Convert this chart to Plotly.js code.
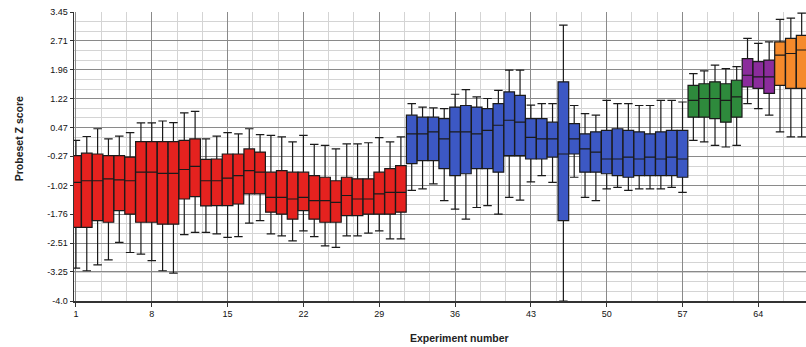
<!DOCTYPE html>
<html>
<head>
<meta charset="utf-8">
<script src="https://cdn.plot.ly/plotly-3.0.1.min.js"></script>
<style>
html,body{margin:0;padding:0;background:#fff;}
#chart{width:806px;height:347px;}
</style>
</head>
<body>
<div id="chart"></div>
<script>
// ---- data ----
const redX    = [1,2,3,4,5,6,7,8,9,10,11,12,13,14,15,16,17,18,19,20,21,22,23,24,25,26,27,28,29,30,31];
const redHigh = [0.14,0.24,0.44,0.18,0.25,0.34,0.59,0.59,0.64,0.60,0.85,0.89,0.18,0.25,0.34,0.31,0.44,0.29,0.27,0.23,0.10,0.27,0.04,0.01,-0.08,0.05,0.05,0.08,0.21,0.10,0.23];
const redQ3   = [-0.25,-0.19,-0.21,-0.25,-0.25,-0.29,0.11,0.11,0.11,0.11,0.14,0.18,-0.35,-0.34,-0.21,-0.21,-0.08,-0.16,-0.68,-0.64,-0.68,-0.68,-0.77,-0.81,-0.90,-0.81,-0.85,-0.85,-0.68,-0.59,-0.51];
const redMed  = [-0.94,-0.90,-0.90,-0.85,-0.88,-0.90,-0.68,-0.68,-0.71,-0.71,-0.61,-0.53,-0.90,-0.90,-0.83,-0.77,-0.64,-0.68,-1.33,-1.33,-1.37,-1.33,-1.41,-1.41,-1.46,-1.28,-1.37,-1.37,-1.24,-1.20,-1.20];
const redQ1   = [-2.10,-2.10,-1.93,-1.97,-1.67,-1.76,-1.97,-1.97,-2.02,-2.02,-1.37,-1.31,-1.55,-1.54,-1.54,-1.50,-1.24,-1.24,-1.71,-1.76,-1.89,-1.67,-1.89,-1.97,-1.97,-1.80,-1.80,-1.76,-1.76,-1.76,-1.71];
const redLow  = [-3.15,-3.22,-3.07,-2.94,-2.49,-2.75,-2.79,-2.96,-3.22,-3.28,-2.29,-2.23,-2.23,-2.27,-2.36,-2.34,-1.99,-1.93,-2.27,-2.32,-2.45,-2.19,-2.34,-2.58,-2.62,-2.32,-2.32,-2.25,-2.19,-2.40,-2.40];

const blueX    = [32,33,34,35,36,37,38,39,40,41,42,43,44,45,46,47,48,49,50,51,52,53,54,55,56,57];
const blueHigh = [1.09,1.00,0.98,0.96,1.33,1.45,1.26,1.22,1.43,1.95,1.95,1.05,1.09,1.09,3.11,1.04,0.83,0.79,1.17,1.09,1.09,1.04,1.04,1.17,1.17,1.13];
const blueQ3   = [0.79,0.74,0.74,0.70,1.00,1.04,1.00,0.96,1.09,1.39,1.30,0.70,0.70,0.61,1.65,0.57,0.31,0.36,0.40,0.44,0.40,0.36,0.31,0.36,0.40,0.40];
const blueMed  = [0.31,0.31,0.36,0.18,0.36,0.36,0.31,0.40,0.53,0.66,0.61,0.22,0.18,0.18,-0.21,0.18,-0.08,-0.16,-0.34,-0.34,-0.29,-0.34,-0.29,-0.34,-0.29,-0.34];
const blueQ1   = [-0.46,-0.38,-0.38,-0.59,-0.77,-0.72,-0.59,-0.59,-0.68,-0.25,-0.25,-0.34,-0.34,-0.29,-1.93,-0.21,-0.68,-0.68,-0.72,-0.77,-0.81,-0.77,-0.77,-0.77,-0.77,-0.81];
const blueLow  = [-1.15,-1.11,-0.98,-1.41,-1.63,-1.89,-1.59,-1.54,-1.76,-1.33,-1.40,-0.93,-0.77,-0.94,-4.00,-0.81,-1.33,-1.41,-1.11,-1.07,-1.15,-1.11,-1.11,-1.11,-1.07,-1.20];

const greenX    = [58,59,60,61,62];
const greenHigh = [1.86,1.93,2.08,1.99,2.04];
const greenQ3   = [1.56,1.60,1.65,1.60,1.69];
const greenMed  = [1.17,1.22,1.22,1.17,1.26];
const greenQ1   = [0.74,0.74,0.70,0.61,0.74];
const greenLow  = [0.14,0.10,0.01,-0.03,0.01];

const purpleX    = [63,64,65];
const purpleHigh = [2.77,2.64,2.68];
const purpleQ3   = [2.25,2.17,2.21];
const purpleMed  = [1.82,1.78,1.78];
const purpleQ1   = [1.52,1.48,1.35];
const purpleLow  = [1.09,0.96,0.79];

const orangeX    = [66,67,68];
const orangeHigh = [3.26,3.29,3.42];
const orangeQ3   = [2.68,2.77,2.85];
const orangeMed  = [2.34,2.38,2.47];
const orangeQ1   = [1.56,1.48,1.48];
const orangeLow  = [0.36,0.23,0.23];

const yTickVals  = [3.45,2.71,1.96,1.22,0.47,-0.27,-1.02,-1.76,-2.51,-3.25,-4.0];
const yTickText  = ["3.45","2.71","1.96","1.22","0.47","-0.27","-1.02","-1.76","-2.51","-3.25","-4.0"];
const xTickVals  = [1,8,15,22,29,36,43,50,57,64];

// ---- traces ----
function boxTrace(x, low, q1, med, q3, high, fill) {
  return {
    type: 'box', x: x, lowerfence: low, q1: q1, median: med, q3: q3, upperfence: high,
    fillcolor: fill, width: 0.98, whiskerwidth: 0.8,
    line: {color: '#1a1a1a', width: 1.2},
    hoverinfo: 'skip', showlegend: false
  };
}
const data = [
  boxTrace(redX, redLow, redQ1, redMed, redQ3, redHigh, '#e5221f'),
  boxTrace(blueX, blueLow, blueQ1, blueMed, blueQ3, blueHigh, '#3c58c4'),
  boxTrace(greenX, greenLow, greenQ1, greenMed, greenQ3, greenHigh, '#2e8a3c'),
  boxTrace(purpleX, purpleLow, purpleQ1, purpleMed, purpleQ3, purpleHigh, '#8b2c9c'),
  boxTrace(orangeX, orangeLow, orangeQ1, orangeMed, orangeQ3, orangeHigh, '#f58a2b')
];

const tickFont = {family: 'Liberation Sans, Arial, sans-serif', size: 9, color: '#111'};
const layout = {
  width: 806, height: 347,
  margin: {l: 74, r: 0, t: 12, b: 46},
  paper_bgcolor: '#ffffff', plot_bgcolor: '#ffffff',
  showlegend: false,
  xaxis: {
    range: [0.82, 68.4], tickmode: 'array', tickvals: xTickVals,
    ticks: 'outside', ticklen: 4, tickcolor: '#333',
    showline: true, linecolor: '#333', linewidth: 1.5, mirror: false,
    showgrid: true, gridcolor: '#8a8a8a', gridwidth: 1, zeroline: false,
    minor: {tick0: 1, dtick: 7/3, showgrid: true, gridcolor: '#d4d4d4', gridwidth: 1},
    tickfont: tickFont, title: {text: ''}
  },
  yaxis: {
    range: [-4.0, 3.45], tickmode: 'array', tickvals: yTickVals, ticktext: yTickText,
    ticks: 'outside', ticklen: 3, tickcolor: '#333',
    showline: true, linecolor: '#333', linewidth: 1.5,
    showgrid: true, gridcolor: '#8a8a8a', gridwidth: 1, zeroline: false,
    minor: {tick0: -4.0, dtick: 0.745/3, showgrid: true, gridcolor: '#d4d4d4', gridwidth: 1},
    tickfont: tickFont, title: {text: ''}
  },
  annotations: [
    {text: '<b>Experiment number</b>', xref: 'paper', yref: 'paper', x: 0.527, y: -0.1,
     xanchor: 'center', yanchor: 'top', showarrow: false,
     font: {family: 'Liberation Sans, Arial, sans-serif', size: 10.5, color: '#222'}},
    {text: '<b>Probeset Z score</b>', xref: 'paper', yref: 'paper', x: -0.075, y: 0.56,
     xanchor: 'center', yanchor: 'middle', textangle: -90, showarrow: false,
     font: {family: 'Liberation Sans, Arial, sans-serif', size: 10.5, color: '#222'}}
  ]
};

Plotly.newPlot('chart', data, layout, {staticPlot: true, displayModeBar: false});
</script>
</body>
</html>
